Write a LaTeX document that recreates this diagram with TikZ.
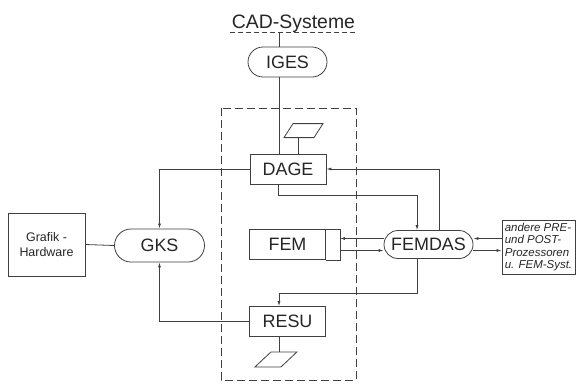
\documentclass[tikz,border=0pt]{standalone}
\usepackage{fontspec}
\setmainfont{Liberation Sans}
\usetikzlibrary{arrows.meta,calc,shapes.misc}

\tikzset{
  linie/.style={draw=black!75, line width=0.8bp},
  pfeil/.style={linie, -{Latex[length=5bp,width=3bp]}},
  kasten/.style={linie, fill=white, text=black!85, rectangle, inner sep=0pt,
    minimum width=76bp, minimum height=30bp, font=\fontsize{18}{20}\selectfont},
  oval/.style={kasten, rounded rectangle},
  rahmen/.style={linie, dash pattern=on 8bp off 4bp}
}

\begin{document}
\begin{tikzpicture}[x=1bp, y=-1bp]
  \useasboundingbox[fill=white] (0,0) rectangle (576,383);

  % CAD-Systeme oben
  \node[anchor=base, inner sep=0pt, text=black!85, font=\fontsize{19.5}{22}\selectfont]
    (cad) at (293.5,28) {CAD-Systeme};
  \coordinate (cadlinks) at (230,32);
  \coordinate (cadrechts) at (357,32);
  \draw[linie, dash pattern=on 5bp off 3bp] (cadlinks) -- (cadrechts);

  % gestrichelter Rahmen
  \draw[rahmen] (221,108) rectangle (356,380);

  % Knoten
  \node[oval, minimum width=79bp] (iges) at (287.5,62) {IGES};
  \foreach \name/\pos/\lab in {
      dage/{288,169}/DAGE,
      fem/{287.5,244.5}/FEM,
      resu/{287.5,321.5}/RESU
  }{
      \node[kasten] (\name) at (\pos) {\lab};
  }
  \draw[linie] (fem.north east) -- ++(14,0) |- (fem.south east);
  \coordinate (femende) at ($(fem.east)+(14,0)$);
  \node[oval, minimum width=90bp, minimum height=33bp] (gks) at (159.5,245.5) {GKS};
  \node[oval, minimum width=89bp, minimum height=28bp] (femdas) at (428.5,244.5) {FEMDAS};
  \node[kasten, minimum width=77bp, minimum height=63bp, align=center,
    font=\fontsize{12.5}{15}\selectfont] (grafik) at (46.5,244.5) {Grafik -\\Hardware};
  \node[kasten, minimum width=73bp, minimum height=54bp, align=left, inner sep=2bp,
    font=\fontsize{11.5}{12.5}\selectfont\itshape] (andere) at (538.5,247)
    {andere PRE-\\und POST-\\Prozessoren\\u. FEM-Syst.};

  % IGES-Linie
  \coordinate (oben) at (279,32);
  \draw[linie] (oben) -- (oben |- iges.north);
  \draw[linie] (oben |- iges.south) -- (oben |- dage.north);

  % Ausgabe-Symbole
  \draw[linie] ($(dage.north)+(10,0)$) -- ++(0,-16) coordinate (s1);
  \draw[linie] ($(s1)+(-14,0)$) -- ++(30,0) -- ++(9,-14) -- ++(-30,0) -- cycle;
  \draw[linie] ($(resu.south)+(-8.5,0)$) -- ++(0,15) coordinate (s2);
  \draw[linie] ($(s2)+(-8,0)$) -- ++(26,0) -- ++(-16,15) -- ++(-26,0) -- cycle;

  % GKS
  \draw[pfeil] (dage.west) -| (gks.north);
  \draw[pfeil] (resu.west) -| (gks.south);
  \draw[linie] (grafik.east) -- (gks.west);

  % FEMDAS
  \draw[pfeil] ($(femdas.north)+(10.5,0)$) |- (dage.east);
  \draw[pfeil] ($(dage.south)+(-10,0)$) -- ++(0,11) -| ($(femdas.north)+(-11.5,0)$);
  \draw[pfeil] ($(femdas.south)+(-11.5,0)$) -- ++(0,34) -| ($(resu.north)+(-8.5,0)$);

  % FEM <-> FEMDAS
  \coordinate (w1) at ($(femdas.west)+(0,-6)$);
  \coordinate (w2) at ($(femdas.west)+(0,6)$);
  \draw[pfeil] (w1) -- (w1 -| femende);
  \draw[pfeil] (w2 -| femende) -- (w2);

  % FEMDAS <-> andere Systeme
  \coordinate (e1) at ($(femdas.east)+(0,-6)$);
  \coordinate (e2) at ($(femdas.east)+(0,6)$);
  \draw[pfeil] (e1 -| andere.west) -- (e1);
  \draw[pfeil] (e2) -- (e2 -| andere.west);
\end{tikzpicture}
\end{document}
